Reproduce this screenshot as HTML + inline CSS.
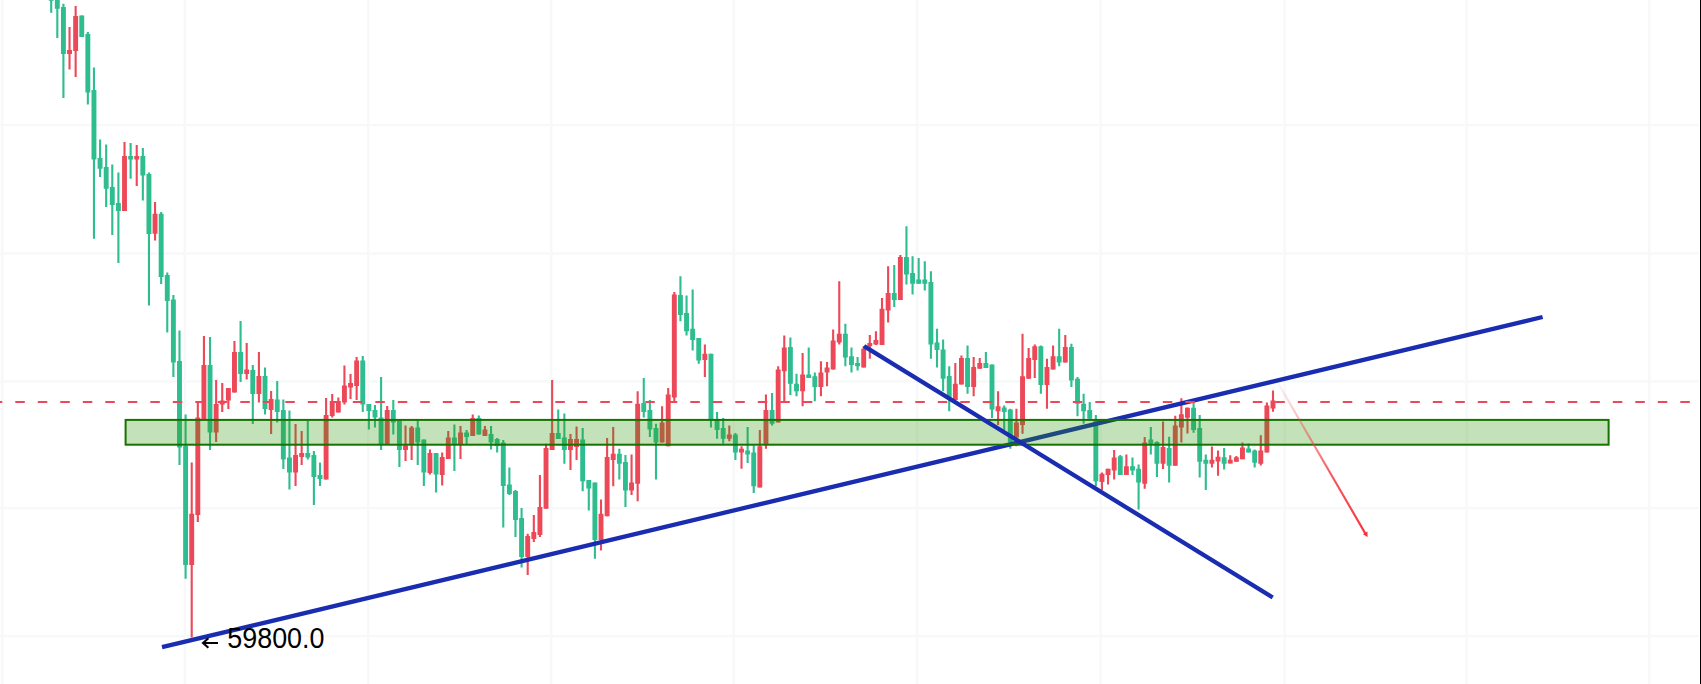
<!DOCTYPE html>
<html><head><meta charset="utf-8"><style>
html,body{margin:0;padding:0;background:#fff;}
body{width:1701px;height:684px;overflow:hidden;font-family:"Liberation Sans",sans-serif;}
svg{display:block;}
</style></head><body>
<svg width="1701" height="684" viewBox="0 0 1701 684">
<rect x="1" y="0" width="2.4" height="684" fill="#f7f8f9"/>
<rect x="183.6" y="0" width="2.4" height="684" fill="#f7f8f9"/>
<rect x="367" y="0" width="2.4" height="684" fill="#f7f8f9"/>
<rect x="550" y="0" width="2.4" height="684" fill="#f7f8f9"/>
<rect x="732.6" y="0" width="2.4" height="684" fill="#f7f8f9"/>
<rect x="916" y="0" width="2.4" height="684" fill="#f7f8f9"/>
<rect x="1099.4" y="0" width="2.4" height="684" fill="#f7f8f9"/>
<rect x="1283.4" y="0" width="2.4" height="684" fill="#f7f8f9"/>
<rect x="1465.4" y="0" width="2.4" height="684" fill="#f7f8f9"/>
<rect x="1648" y="0" width="2.4" height="684" fill="#f7f8f9"/>
<rect x="0" y="123.9" width="1699" height="2.4" fill="#f7f8f9"/>
<rect x="0" y="252.3" width="1699" height="2.4" fill="#f7f8f9"/>
<rect x="0" y="380.2" width="1699" height="2.4" fill="#f7f8f9"/>
<rect x="0" y="506.9" width="1699" height="2.4" fill="#f7f8f9"/>
<rect x="0" y="634.9" width="1699" height="2.4" fill="#f7f8f9"/>
<path d="M51.2 0V12.8M57.31 -5V38M63.42 3.75V98M81.75 15.5V37M87.85 32V104.5M93.96 67.5V238.75M100.07 139.5V177M106.18 144.5V207M112.29 164.5V235M118.4 172.5V263M130.62 143V178.75M142.84 148V200.5M148.94 172.5V305.5M161.16 212V284M167.27 272.5V332.5M173.38 295V377M179.49 330.5V465M185.6 414.5V578.75M210.03 337V450M240.58 321V382M252.8 365V424M265.01 367.5V414.5M277.23 381V422.5M283.34 399.5V469M289.45 410.5V489.5M307.78 421V459.5M313.89 451V505M320 462.5V486M362.76 356V412M368.87 404V429.5M374.98 405V427.5M381.09 377V450M393.3 400V434.5M399.41 420.5V467M417.74 420.5V465M423.85 439.5V486M436.07 453V492.5M454.39 424.5V471M466.61 430V444M478.83 415.5V434.5M491.05 426V449.5M497.16 438V452.5M503.27 440V527.5M509.38 467.5V495M515.48 490V537M521.59 508V567.5M558.25 409.5V439M564.36 413.5V463.75M582.68 428V491.25M588.79 480V510.5M594.9 482.5V558.75M619.34 448.75V479.5M625.45 455V507M643.77 378V417.5M649.88 400V437M655.99 423.75V479.5M680.43 276.25V321.25M686.54 295.5V335.5M692.65 289.5V350.5M698.75 338V363.75M710.97 353.75V427.5M717.08 412V438.75M723.19 418V443.75M735.41 433V460M747.63 427V463M753.74 445.5V493M772.06 393V425.5M790.39 337.5V395M796.5 373.75V396.25M808.72 347.5V378M814.83 372.5V401.25M845.37 323.75V366.25M851.48 347.5V372.5M857.59 357V370.5M894.24 265V307M906.46 226.25V284.5M912.57 256.25V294.5M918.68 258V283.75M924.79 261.25V290.5M930.9 271.25V358.75M937 328.75V367.5M943.11 339.5V391.25M949.22 366.25V411.25M967.55 345.5V393.75M985.88 352V368M991.99 364.5V418M1004.2 405.5V430M1010.31 408.75V448.75M1040.86 345.5V393.75M1059.18 328.75V366.25M1071.4 343.75V387M1077.51 377V416.25M1083.62 393.75V423.75M1089.73 402V418.75M1095.84 415V486.25M1120.28 455V475M1132.49 457.5V475M1138.6 464.5V509.5M1150.82 427V454.5M1156.93 441.25V477M1169.15 436.7V482.5M1193.58 402.5V432.8M1199.69 415V477.6M1205.8 454.6V490M1224.13 447.9V469.6M1248.56 443.4V452.6M1254.67 449.5V467.5" stroke="#2ebd8f" stroke-width="2.1" fill="none"/>
<path d="M69.53 27V69.5M75.64 6V77M124.51 142V211M136.73 145V186M155.05 202V240.5M191.71 462.5V637.5M197.82 401V522M203.93 336V420M216.14 380V442M222.25 383V412M228.36 388V409M234.47 341V392.5M246.69 343V379.5M258.91 352V402.5M271.12 391V434M295.56 424V486M301.67 431V465M326.1 398V479.5M332.21 394V417.5M338.32 397.5V412.5M344.43 365.5V404.5M350.54 374V399M356.65 357V400M387.19 406V444M405.52 425.5V461M411.63 426V460M429.96 449.5V474.5M442.18 452.5V485.5M448.28 431V459M460.5 426V459M472.72 414.5V436M484.94 426V436M527.7 533.75V575M533.81 515V542M539.92 475V537M546.03 443.75V508.75M552.14 380V450M570.47 434V470M576.57 426.5V460M601.01 499.5V550.5M607.12 438V516.25M613.23 427V486.25M631.56 454.5V495M637.66 391.25V501.25M662.1 406.25V442.5M668.21 388V446.25M674.32 292V401.25M704.86 344.5V377M729.3 425.5V441.25M741.52 446.25V468.75M759.84 430V487.5M765.95 394.5V448.75M778.17 366.25V422.5M784.28 335.5V401.25M802.61 353V406.25M820.93 361.25V396.25M827.04 362V386.25M833.15 329.5V369.5M839.26 281.25V344.5M863.7 346V367.5M869.81 335V358.75M875.92 331.25V345M882.02 298V345M888.13 266.25V322.5M900.35 255V300M955.33 363V400M961.44 355.5V384.5M973.66 357V396.25M979.77 358V368.75M998.1 391.25V425M1016.42 408.75V446.25M1022.53 333.75V433.75M1028.64 348V378.75M1034.75 344.5V378M1046.97 358.75V408.75M1053.08 345.5V369.5M1065.29 335V362.5M1101.95 472.5V490M1108.06 468.75V484.5M1114.17 450V479.5M1126.38 454.5V475M1144.71 437V488.75M1163.04 421.5V469M1175.26 415.7V465.7M1181.37 398.2V442.6M1187.47 407.6V433.5M1211.91 446.5V467.5M1218.02 450.5V475.7M1230.24 455.3V463.4M1236.35 456V461.8M1242.46 442.4V459.3M1260.78 435.2V465.5M1266.89 402.5V452.6M1273 390.6V411.7" stroke="#ec4858" stroke-width="2.1" fill="none"/>
<path d="M48.75 -10h4.9V0.8h-4.9zM54.86 -5h4.9V8.75h-4.9zM60.97 7h4.9V54h-4.9zM79.3 15.5h4.9V37h-4.9zM85.4 34h4.9V92.5h-4.9zM91.51 90h4.9V159.5h-4.9zM97.62 158h4.9V168.75h-4.9zM103.73 167h4.9V188.75h-4.9zM109.84 187h4.9V205h-4.9zM115.95 203h4.9V211h-4.9zM128.17 156h4.9V159.5h-4.9zM140.39 156h4.9V175.5h-4.9zM146.49 174h4.9V234h-4.9zM158.71 213.75h4.9V277h-4.9zM164.82 275h4.9V301h-4.9zM170.93 299.5h4.9V362.5h-4.9zM177.04 361h4.9V447.5h-4.9zM183.15 446h4.9V565h-4.9zM207.58 365h4.9V432.5h-4.9zM238.13 352h4.9V374h-4.9zM250.35 370h4.9V394h-4.9zM262.56 376h4.9V409h-4.9zM274.78 399.5h4.9V412h-4.9zM280.89 410h4.9V459.5h-4.9zM287 457.5h4.9V472.5h-4.9zM305.33 453h4.9V457.5h-4.9zM311.44 455h4.9V477h-4.9zM317.55 475h4.9V479h-4.9zM360.31 360.5h4.9V404.5h-4.9zM366.42 404h4.9V411h-4.9zM372.53 410h4.9V417.5h-4.9zM378.64 417.5h4.9V444h-4.9zM390.85 410h4.9V422.5h-4.9zM396.96 420.5h4.9V450h-4.9zM415.29 427.5h4.9V442.5h-4.9zM421.4 439.5h4.9V472.5h-4.9zM433.62 453h4.9V474.5h-4.9zM451.94 437.5h4.9V444.5h-4.9zM464.16 432.5h4.9V437h-4.9zM476.38 418h4.9V434.5h-4.9zM488.6 434h4.9V442.5h-4.9zM494.71 439h4.9V446h-4.9zM500.82 442.5h4.9V486h-4.9zM506.93 484.5h4.9V494h-4.9zM513.03 491h4.9V520h-4.9zM519.14 518h4.9V557h-4.9zM555.8 433h4.9V439h-4.9zM561.91 437.5h4.9V450h-4.9zM580.23 439.5h4.9V481.25h-4.9zM586.34 480h4.9V488.5h-4.9zM592.45 482.5h4.9V540h-4.9zM616.89 453.75h4.9V463.75h-4.9zM623 462h4.9V490.5h-4.9zM641.32 403h4.9V412h-4.9zM647.43 410h4.9V429.5h-4.9zM653.54 428h4.9V442.5h-4.9zM677.98 295h4.9V315h-4.9zM684.09 313h4.9V331.25h-4.9zM690.2 328.75h4.9V340h-4.9zM696.3 338h4.9V360.5h-4.9zM708.52 353.75h4.9V419.5h-4.9zM714.63 420h4.9V430h-4.9zM720.74 428h4.9V438.75h-4.9zM732.96 434.5h4.9V452.5h-4.9zM745.18 450.5h4.9V454.5h-4.9zM751.28 452.5h4.9V486.25h-4.9zM769.61 410h4.9V423.75h-4.9zM787.94 347h4.9V383.75h-4.9zM794.05 383.75h4.9V391.25h-4.9zM806.27 374.5h4.9V378h-4.9zM812.38 376.25h4.9V387h-4.9zM842.92 333.75h4.9V357.5h-4.9zM849.03 356.25h4.9V365h-4.9zM855.14 363h4.9V366.25h-4.9zM891.79 293h4.9V300h-4.9zM904.01 257h4.9V274.5h-4.9zM910.12 273h4.9V283.75h-4.9zM916.23 279.5h4.9V283.75h-4.9zM922.34 279.5h4.9V283.75h-4.9zM928.45 282h4.9V344.5h-4.9zM934.55 342.5h4.9V350h-4.9zM940.66 349.5h4.9V378.75h-4.9zM946.77 376h4.9V397.5h-4.9zM965.1 358h4.9V387h-4.9zM983.43 363h4.9V368h-4.9zM989.54 364.5h4.9V409.5h-4.9zM1001.75 407.5h4.9V412h-4.9zM1007.86 409.5h4.9V442.5h-4.9zM1038.41 346.25h4.9V385h-4.9zM1056.73 356.25h4.9V362.5h-4.9zM1068.95 347h4.9V380.5h-4.9zM1075.06 378.75h4.9V403.75h-4.9zM1081.17 403.75h4.9V411.25h-4.9zM1087.28 410h4.9V418.75h-4.9zM1093.39 420h4.9V481.25h-4.9zM1117.83 456.25h4.9V475h-4.9zM1130.04 466.25h4.9V470.5h-4.9zM1136.15 468.75h4.9V482.5h-4.9zM1148.37 439.5h4.9V443.75h-4.9zM1154.48 442h4.9V463.75h-4.9zM1166.7 448h4.9V465.7h-4.9zM1191.13 407.8h4.9V430h-4.9zM1197.24 428h4.9V461.8h-4.9zM1203.35 459.8h4.9V463.8h-4.9zM1221.68 457.3h4.9V463.8h-4.9zM1246.11 448.5h4.9V452.6h-4.9zM1252.22 450.6h4.9V462.8h-4.9z" fill="#2ebd8f"/>
<path d="M67.08 50h4.9V54h-4.9zM73.19 16h4.9V51h-4.9zM122.06 156h4.9V211h-4.9zM134.28 156h4.9V159.5h-4.9zM152.6 213.75h4.9V233.75h-4.9zM189.26 513.75h4.9V565h-4.9zM195.37 417.5h4.9V515h-4.9zM201.48 365h4.9V420h-4.9zM213.69 404h4.9V432.5h-4.9zM219.8 400.5h4.9V404.5h-4.9zM225.91 388h4.9V400.5h-4.9zM232.02 352h4.9V392.5h-4.9zM244.24 369.5h4.9V374h-4.9zM256.46 376h4.9V394h-4.9zM268.67 399h4.9V410h-4.9zM293.11 455h4.9V472.5h-4.9zM299.22 453h4.9V457h-4.9zM323.65 415h4.9V479.5h-4.9zM329.76 401h4.9V416h-4.9zM335.87 401h4.9V412.5h-4.9zM341.98 385.5h4.9V402.5h-4.9zM348.09 383h4.9V387.5h-4.9zM354.2 360.5h4.9V386h-4.9zM384.75 410h4.9V444h-4.9zM403.07 445.5h4.9V450h-4.9zM409.18 427.5h4.9V444h-4.9zM427.51 453h4.9V473h-4.9zM439.73 457h4.9V475h-4.9zM445.83 437.5h4.9V459h-4.9zM458.05 432.5h4.9V445h-4.9zM470.27 418h4.9V436h-4.9zM482.49 429.5h4.9V436h-4.9zM525.25 536h4.9V557h-4.9zM531.36 532h4.9V539h-4.9zM537.47 507h4.9V535h-4.9zM543.58 448h4.9V508.75h-4.9zM549.69 433h4.9V450h-4.9zM568.01 439h4.9V450h-4.9zM574.12 439h4.9V447h-4.9zM598.56 513.75h4.9V540h-4.9zM604.67 457h4.9V516.25h-4.9zM610.78 453.75h4.9V460h-4.9zM629.11 482.5h4.9V490.5h-4.9zM635.21 403.75h4.9V483.75h-4.9zM659.65 422.5h4.9V442.5h-4.9zM665.76 394.5h4.9V446.25h-4.9zM671.87 294.5h4.9V397.5h-4.9zM702.41 353.75h4.9V360h-4.9zM726.85 434.5h4.9V438.75h-4.9zM739.07 448.75h4.9V452.5h-4.9zM757.39 446.25h4.9V487.5h-4.9zM763.5 410h4.9V445h-4.9zM775.72 369.5h4.9V422.5h-4.9zM781.83 347.5h4.9V371.25h-4.9zM800.16 374.5h4.9V391.25h-4.9zM818.48 372.5h4.9V387h-4.9zM824.59 367.5h4.9V372.5h-4.9zM830.7 340.5h4.9V369.5h-4.9zM836.81 333.75h4.9V342.5h-4.9zM861.25 348.75h4.9V367.5h-4.9zM867.36 343h4.9V346.25h-4.9zM873.47 340h4.9V344.5h-4.9zM879.57 308.75h4.9V345h-4.9zM885.68 293h4.9V310.5h-4.9zM897.9 257h4.9V300h-4.9zM952.88 383.75h4.9V400h-4.9zM958.99 358h4.9V384.5h-4.9zM971.21 367h4.9V387h-4.9zM977.32 363h4.9V368.75h-4.9zM995.64 406.25h4.9V411.25h-4.9zM1013.97 422.5h4.9V437.5h-4.9zM1020.08 376.25h4.9V425h-4.9zM1026.19 358h4.9V378.75h-4.9zM1032.3 346.25h4.9V360h-4.9zM1044.52 367h4.9V385h-4.9zM1050.63 356.25h4.9V369.5h-4.9zM1062.84 347h4.9V362.5h-4.9zM1099.5 473.75h4.9V482h-4.9zM1105.61 468.75h4.9V475h-4.9zM1111.72 457.5h4.9V470.5h-4.9zM1123.93 466.25h4.9V475h-4.9zM1142.26 442.5h4.9V483.75h-4.9zM1160.59 447h4.9V463.7h-4.9zM1172.81 425.5h4.9V465.7h-4.9zM1178.91 414.3h4.9V427.5h-4.9zM1185.02 407.8h4.9V417.7h-4.9zM1209.46 459.8h4.9V463.8h-4.9zM1215.57 456.7h4.9V461.4h-4.9zM1227.79 459.8h4.9V463.4h-4.9zM1233.9 457.3h4.9V461.8h-4.9zM1240.01 447.5h4.9V459.3h-4.9zM1258.33 450.6h4.9V463.8h-4.9zM1264.44 405.6h4.9V452.6h-4.9zM1270.55 400.4h4.9V408.6h-4.9z" fill="#ec4858"/>
<line x1="162" y1="647.2" x2="1542.6" y2="317" stroke="#1a2db0" stroke-width="4.3"/>
<rect x="125.6" y="419.9" width="1483" height="24.8" fill="rgba(43,152,4,0.28)" stroke="#177300" stroke-width="2"/>
<line x1="0" y1="402" x2="1699" y2="402" stroke="#ec4858" stroke-width="2.2" stroke-dasharray="9.5 13" stroke-dashoffset="7.2"/>
<line x1="864" y1="346.1" x2="1272.7" y2="597.5" stroke="#1a2db0" stroke-width="4.3"/>
<defs><linearGradient id="ag" gradientUnits="userSpaceOnUse" x1="1278.6" y1="384" x2="1366.5" y2="535">
<stop offset="0" stop-color="#f2404a" stop-opacity="0.05"/><stop offset="0.3" stop-color="#f2404a" stop-opacity="0.45"/><stop offset="0.6" stop-color="#f53a44" stop-opacity="0.85"/><stop offset="1" stop-color="#fa3038" stop-opacity="1"/></linearGradient></defs>
<line x1="1278.6" y1="384" x2="1366" y2="534.6" stroke="url(#ag)" stroke-width="2.1"/>
<path d="M1367.6 536.9 L1362.9 534.2 L1367.5 531.5 Z" fill="#fa3038"/>
<path d="M218 643H203M208.4 638.2L203 643L208.4 647.8" stroke="#000" stroke-width="2.1" fill="none"/>
<text transform="translate(227.3 648) scale(0.905 1)" x="0" y="0" font-family="Liberation Sans, sans-serif" font-size="29.7" fill="#000">59800.0</text>
<rect x="1700" y="0" width="1" height="684" fill="#000"/>
</svg>
</body></html>
